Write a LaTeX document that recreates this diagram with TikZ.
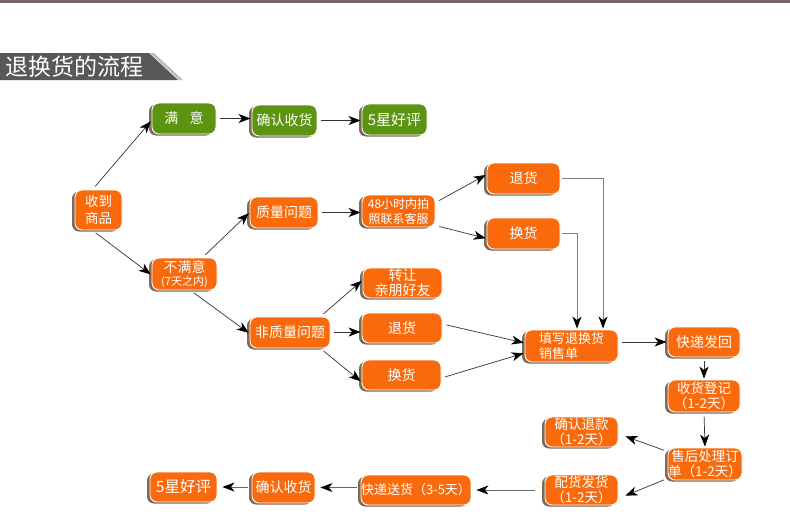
\documentclass[tikz,border=0pt]{standalone}
\usepackage{fontspec}
\setmainfont{Noto Sans CJK SC}
\usetikzlibrary{arrows.meta,shadows,calc}
\definecolor{org}{HTML}{F96A0C}
\definecolor{grn}{HTML}{5C9412}
\definecolor{shd}{HTML}{7D6B5A}
\definecolor{topline}{HTML}{7A6868}
\definecolor{ban}{HTML}{585858}
\newcommand{\fs}[2]{\fontsize{#1}{#2}\selectfont}
\tikzset{
  box/.style={rounded corners=7pt, draw=white, line width=0.9pt, text=white,
    align=center, inner sep=0pt, font=\fs{14}{16},
    general shadow={shadow xshift=-3pt, shadow yshift=-1.5pt, fill=shd}},
  obox/.style={box, fill=org},
  gbox/.style={box, fill=grn},
  arr/.style={draw=black!80, line width=0.7pt, shorten <=4pt, shorten >=1pt,
    -{Stealth[length=12pt,width=9pt,inset=3.5pt,color=black]}},
  garr/.style={arr, draw=black!50, line width=1pt},
}
\begin{document}
\begin{tikzpicture}[x=1pt,y=-1pt]
\useasboundingbox (0,0) rectangle (790,530);
\fill[white] (0,0) rectangle (790,530);
\fill[topline] (0,0) rectangle (790,2.5);
% title banner
\fill[black!25] (150,53) -- (154,53) -- (183,80) -- (179,80) -- cycle;
\fill[ban] (0,53) -- (149,53) -- (178,80) -- (0,80) -- cycle;
\node[anchor=west, text=white, font=\fs{23}{25}, inner sep=0pt] (title) at (5,67) {退换货的流程};

% nodes
\node[gbox, minimum width=64, minimum height=31] (man) at (184,118.5) {满\hspace{0.8em}意};
\node[gbox, minimum width=65, minimum height=31] (qr1) at (284.5,120.5) {确认收货};
\node[gbox, minimum width=65, minimum height=31, font=\fs{15}{17}] (hp1) at (394.5,119.5) {5星好评};

\node[obox, minimum width=47, minimum height=40, font=\fs{13.5}{17}] (sd) at (98.5,210) {收到\\商品};
\node[obox, minimum width=65, minimum height=32] (bmy) at (184.5,274) {不满意\\[-3pt]{\fs{11}{12}(7天之内)}};
\node[obox, minimum width=68, minimum height=31] (zl) at (284,212.5) {质量问题};
\node[obox, minimum width=73, minimum height=32, font=\fs{12}{15}] (h48) at (398.5,211) {48小时内拍\\照联系客服};
\node[obox, minimum width=73, minimum height=31] (th1) at (523.5,178.5) {退货};
\node[obox, minimum width=73, minimum height=31] (hh1) at (523.5,233.5) {换货};

\node[obox, minimum width=80, minimum height=31] (fzl) at (290,332.5) {非质量问题};
\node[obox, minimum width=79, minimum height=30, font=\fs{14}{15}] (zr) at (402.5,283) {转让\\亲朋好友};
\node[obox, minimum width=80, minimum height=30] (th2) at (402,328) {退货};
\node[obox, minimum width=79, minimum height=30] (hh2) at (401.5,375) {换货};

\node[obox, minimum width=93, minimum height=32, font=\fs{13}{14.5}, align=left] (tx) at (571.5,346) {填写退换货\\销售单};
\node[obox, minimum width=72, minimum height=30] (kd) at (704,342) {快递发回};
\node[obox, minimum width=72, minimum height=32, font=\fs{13.5}{15}] (sh) at (704,396) {收货登记\\（1-2天）};
\node[obox, minimum width=74, minimum height=32, font=\fs{13.5}{15}] (shcl) at (705,464) {售后处理订\\单（1-2天）};
\node[obox, minimum width=73, minimum height=30, font=\fs{13.5}{15}] (qrtk) at (581.5,432) {确认退款\\（1-2天）};
\node[obox, minimum width=73, minimum height=30, font=\fs{13.5}{15}] (phfh) at (581.5,490) {配货发货\\（1-2天）};
\node[obox, minimum width=108, minimum height=30, font=\fs{13}{15}] (kdsh) at (416,490) {快递送货（3-5天）};
\node[obox, minimum width=63, minimum height=31] (qr2) at (283.5,487.5) {确认收货};
\node[obox, minimum width=67, minimum height=30, font=\fs{15.5}{17}] (hp2) at (183.5,487) {5星好评};

% connectors
\draw[arr] ([xshift=-6pt]sd.north) -- ([yshift=-2pt]man.west);
\draw[arr] ([xshift=-6pt]sd.south) -- ([yshift=-1pt]bmy.west);
\draw[arr] (man.east) -- (man.east -| qr1.west);
\draw[arr] (qr1.east) -- (qr1.east -| hp1.west);
\draw[arr] ([xshift=18pt]bmy.north) -- (zl.west);
\draw[arr] ([xshift=6pt]bmy.south) -- ([yshift=-1pt]fzl.west);
\draw[arr] (zl.east) -- (zl.east -| h48.west);
\draw[arr] ([yshift=-8pt]h48.north east) -- ([yshift=4pt]th1.west);
\draw[arr] ([yshift=2pt]h48.south east) -- ([yshift=-5pt]hh1.west);
\draw[garr, shorten <=2pt] (th1.east) -| ([xshift=31.5pt]tx.north);
\draw[garr, shorten <=2pt] (hh1.east) -| ([xshift=5.5pt]tx.north);
\draw[arr] ([xshift=-10pt]fzl.north east) -- ([yshift=3pt]zr.west);
\draw[arr] ([yshift=0.5pt]fzl.east) -- ([yshift=0.5pt]fzl.east -| th2.west);
\draw[arr] ([xshift=-10pt]fzl.south east) -- ([yshift=-7pt]hh2.west);
\draw[arr] ([yshift=4pt]th2.east) -- ([yshift=3pt]tx.west);
\draw[arr] ([yshift=-3pt]hh2.east) -- ([yshift=-7pt]tx.west);
\draw[arr] (tx.east |- kd.west) -- (kd.west);
\draw[arr] (kd.south) -- (sh.north);
\draw[arr] (sh.south) -- (shcl.north);
\draw[arr] ([yshift=-4pt]shcl.north west) -- ([xshift=6pt,yshift=-4pt]qrtk.east);
\draw[arr] ([yshift=2pt]shcl.south west) -- ([xshift=6pt,yshift=-6pt]phfh.east);
\draw[arr, draw=black!60, shorten <=10pt] (phfh.west) -- ([xshift=4pt]kdsh.east);
\draw[arr, draw=black!60] (kdsh.west |- qr2.east) -- ([xshift=4pt]qr2.east);
\draw[arr, draw=black!60] (qr2.west |- hp2.east) -- ([xshift=4pt]hp2.east);
\end{tikzpicture}
\end{document}
